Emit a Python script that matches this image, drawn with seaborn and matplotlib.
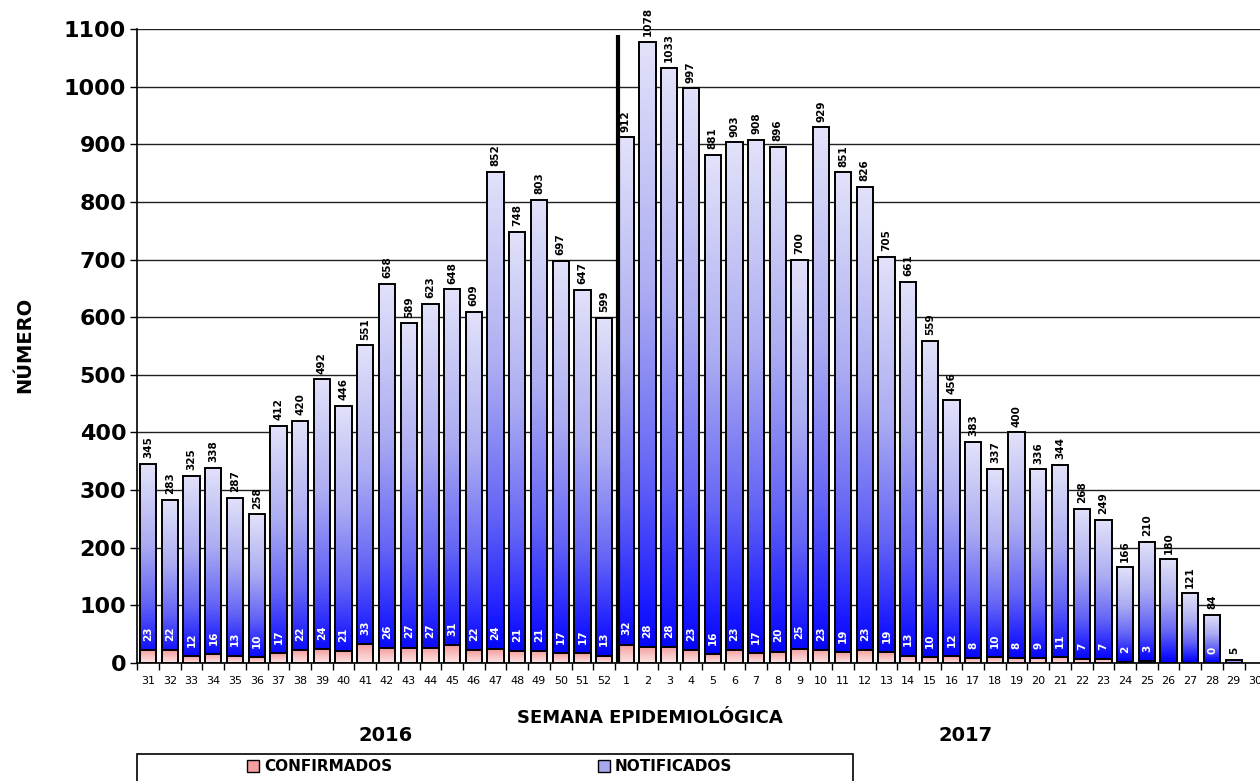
import matplotlib
matplotlib.use('Agg')
import matplotlib.pyplot as plt
import numpy as np
import pandas as pd
import seaborn as sns
from matplotlib.colors import LinearSegmentedColormap
from matplotlib.patches import Patch, Rectangle

# semanas epidemiologicas 31-52 (2016) y 1-30 (2017)
weeks = [str(w) for w in range(31, 53)] + [str(w) for w in range(1, 31)]
notificados = [345, 283, 325, 338, 287, 258, 412, 420, 492, 446, 551, 658, 589, 623, 648, 609,
               852, 748, 803, 697, 647, 599,
               912, 1078, 1033, 997, 881, 903, 908, 896, 700, 929, 851, 826, 705, 661, 559, 456,
               383, 337, 400, 336, 344, 268, 249, 166, 210, 180, 121, 84, 5, np.nan]
confirmados = [23, 22, 12, 16, 13, 10, 17, 22, 24, 21, 33, 26, 27, 27, 31, 22,
               24, 21, 21, 17, 17, 13,
               32, 28, 28, 23, 16, 23, 17, 20, 25, 23, 19, 23, 19, 13, 10, 12,
               8, 10, 8, 9, 11, 7, 7, 2, 3, np.nan, np.nan, 0, np.nan, np.nan]

df = pd.DataFrame({'semana': weeks, 'notificados': notificados, 'confirmados': confirmados})

sns.set_style('white')
plt.rcParams['font.family'] = ['DejaVu Sans']
plt.rcParams['text.color'] = 'black'
plt.rcParams['xtick.color'] = 'black'
plt.rcParams['ytick.color'] = 'black'

fig = plt.figure(figsize=(12.6, 7.81), dpi=100)
ax = fig.add_axes([0.109, 0.151, 0.896, 0.812])

blue_cmap = LinearSegmentedColormap.from_list(
    'nt', [(0.0, '#0000f4'), (0.08, '#1616ff'), (0.3, '#6464f6'),
           (0.6, '#acacf2'), (1.0, '#e2e2fa')])
pink_cmap = LinearSegmentedColormap.from_list('cf', ['#fde4e4', '#f9c2c2', '#f39a9a'])
grad = np.linspace(0, 1, 256).reshape(-1, 1)


def paint(patches, cmap, z):
    for p in patches:
        x, y = p.get_x(), p.get_y()
        w, h = p.get_width(), p.get_height()
        if not np.isfinite(h) or h <= 0:
            continue
        im = ax.imshow(grad, cmap=cmap, extent=[x, x + w, y, y + h], origin='lower',
                       aspect='auto', zorder=z, interpolation='bilinear')
        im.set_clip_path(p)
        p.set_facecolor('none')
        p.set_zorder(z + 0.1)


nt = df.dropna(subset=['notificados'])
sns.barplot(data=nt, x='semana', y='notificados', order=weeks, color='#a0a0f0',
            width=0.75, edgecolor='black', linewidth=1.4, ax=ax)
n_patches = list(ax.patches)
paint(n_patches, blue_cmap, 2)

cf = df.dropna(subset=['confirmados'])
sns.barplot(data=cf, x='semana', y='confirmados', order=weeks, color='#f4a0a0',
            width=0.75, edgecolor='black', linewidth=1.4, ax=ax)
c_patches = [p for p in ax.patches if p not in n_patches]
paint(c_patches, pink_cmap, 3)

# etiquetas de valores
for i, (n, c) in enumerate(zip(notificados, confirmados)):
    if np.isfinite(n):
        ax.text(i, n + 10, f'{int(n)}', rotation=90, ha='center', va='bottom',
                fontsize=7.5, fontweight='bold', color='black', zorder=5)
    if np.isfinite(c):
        ax.text(i, c + 16, f'{int(c)}', rotation=90, ha='center', va='bottom',
                fontsize=7.5, fontweight='bold', color='white', zorder=5)

# separador 2016 / 2017
ax.vlines(21.62, 0, 1090, color='black', linewidth=3, zorder=6)

ax.set_xlim(-0.5, 51.5)
ax.set_ylim(0, 1100)
ax.set_yticks(range(0, 1101, 100))
ax.yaxis.grid(True, color='#202020', linewidth=1)
ax.set_axisbelow(True)
for s in ['top', 'right']:
    ax.spines[s].set_visible(False)
for s in ['left', 'bottom']:
    ax.spines[s].set_color('black')
    ax.spines[s].set_linewidth(1.2)
ax.tick_params(axis='y', left=True, length=5, width=1, pad=3, labelsize=16)
for lab in ax.get_yticklabels():
    lab.set_fontweight('bold')
ax.set_xticks(range(len(weeks)))
ax.set_xticklabels(weeks, fontsize=8, family=['Liberation Sans Narrow', 'DejaVu Sans'])
ax.set_xticks(np.arange(-0.5, 52, 1), minor=True)
ax.tick_params(axis='x', which='major', length=0, pad=9)
ax.tick_params(axis='x', which='minor', bottom=True, length=5, width=1)
ax.set_xlabel('')
ax.set_ylabel('')

fig.text(0.02, 0.558, 'NÚMERO', rotation=90, ha='center', va='center', fontsize=14, fontweight='bold')
fig.text(0.516, 0.081, 'SEMANA EPIDEMIOLÓGICA', ha='center', va='center', fontsize=13, fontweight='bold')
fig.text(0.306, 0.058, '2016', ha='center', va='center', fontsize=14, fontweight='bold')
fig.text(0.766, 0.058, '2017', ha='center', va='center', fontsize=14, fontweight='bold')

# leyenda
fig.patches.append(Rectangle((0.109, -0.01), 0.568, 0.044, transform=fig.transFigure,
                             facecolor='white', edgecolor='black', linewidth=1.2))
handles = [Patch(facecolor='#f4a0a0', edgecolor='black', label='CONFIRMADOS'),
           Patch(facecolor='#a8a8f0', edgecolor='black', label='NOTIFICADOS')]
leg = fig.legend(handles=handles, loc='center left', bbox_to_anchor=(0.19, 0.018), ncol=2,
                 frameon=False, prop={'weight': 'bold', 'size': 11}, handlelength=0.8,
                 handleheight=0.8, handletextpad=0.3, columnspacing=13.5, borderpad=0)

fig.savefig('out.png', dpi=100)
